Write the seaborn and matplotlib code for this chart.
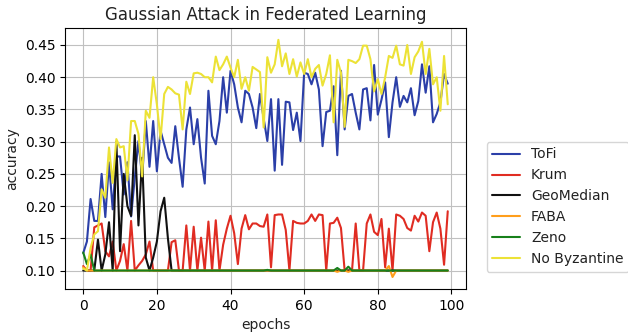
import pandas as pd
import matplotlib
matplotlib.use('Agg')
import matplotlib.pyplot as plt
import seaborn as sns

epochs = list(range(100))

tofi = [0.127, 0.145, 0.211, 0.177, 0.177, 0.250, 0.183, 0.268, 0.195, 0.277,
        0.277, 0.218, 0.268, 0.184, 0.244, 0.301, 0.244, 0.332, 0.261, 0.332,
        0.254, 0.317, 0.296, 0.275, 0.267, 0.324, 0.275, 0.230, 0.319, 0.353,
        0.296, 0.335, 0.275, 0.235, 0.379, 0.309, 0.296, 0.332, 0.400, 0.345,
        0.410, 0.389, 0.353, 0.330, 0.379, 0.374, 0.353, 0.321, 0.374, 0.336,
        0.301, 0.366, 0.255, 0.366, 0.264, 0.362, 0.361, 0.318, 0.345, 0.301,
        0.407, 0.405, 0.389, 0.407, 0.381, 0.293, 0.346, 0.348, 0.386, 0.279,
        0.410, 0.319, 0.371, 0.374, 0.345, 0.319, 0.381, 0.383, 0.333, 0.419,
        0.342, 0.365, 0.392, 0.307, 0.361, 0.400, 0.354, 0.371, 0.361, 0.383,
        0.341, 0.363, 0.420, 0.376, 0.417, 0.330, 0.343, 0.361, 0.405, 0.390]

krum = [0.107, 0.100, 0.100, 0.167, 0.170, 0.173, 0.130, 0.122, 0.145, 0.100,
        0.115, 0.141, 0.100, 0.177, 0.100, 0.108, 0.115, 0.125, 0.145, 0.100,
        0.100, 0.100, 0.100, 0.100, 0.144, 0.147, 0.100, 0.100, 0.170, 0.100,
        0.168, 0.100, 0.151, 0.100, 0.176, 0.100, 0.178, 0.100, 0.140, 0.165,
        0.185, 0.158, 0.110, 0.165, 0.186, 0.164, 0.173, 0.173, 0.169, 0.168,
        0.187, 0.105, 0.186, 0.187, 0.187, 0.163, 0.100, 0.177, 0.174, 0.173,
        0.173, 0.177, 0.187, 0.177, 0.187, 0.186, 0.100, 0.173, 0.174, 0.182,
        0.166, 0.100, 0.100, 0.100, 0.173, 0.100, 0.100, 0.173, 0.187, 0.160,
        0.155, 0.180, 0.105, 0.165, 0.100, 0.187, 0.185, 0.180, 0.166, 0.162,
        0.185, 0.176, 0.190, 0.185, 0.130, 0.175, 0.190, 0.165, 0.109, 0.192]

geomedian = [0.100, 0.100, 0.100, 0.100, 0.148, 0.100, 0.125, 0.175, 0.100, 0.300,
             0.130, 0.250, 0.200, 0.185, 0.310, 0.170, 0.275, 0.120, 0.100, 0.120,
             0.145, 0.192, 0.213, 0.150, 0.100, 0.100, 0.100, 0.100, 0.100, 0.100,
             0.100, 0.100, 0.100, 0.100, 0.100, 0.100, 0.100, 0.100, 0.100, 0.100,
             0.100, 0.100, 0.100, 0.100, 0.100, 0.100, 0.100, 0.100, 0.100, 0.100,
             0.100, 0.100, 0.100, 0.100, 0.100, 0.100, 0.100, 0.100, 0.100, 0.100,
             0.100, 0.100, 0.100, 0.100, 0.100, 0.100, 0.100, 0.100, 0.100, 0.100,
             0.100, 0.100, 0.100, 0.100, 0.100, 0.100, 0.100, 0.100, 0.100, 0.100,
             0.100, 0.100, 0.100, 0.100, 0.100, 0.100, 0.100, 0.100, 0.100, 0.100,
             0.100, 0.100, 0.100, 0.100, 0.100, 0.100, 0.100, 0.100, 0.100, 0.100]

faba = [0.105, 0.100, 0.100, 0.100, 0.100, 0.100, 0.100, 0.100, 0.100, 0.100,
        0.100, 0.100, 0.100, 0.100, 0.100, 0.100, 0.100, 0.100, 0.100, 0.100,
        0.100, 0.100, 0.100, 0.100, 0.100, 0.100, 0.100, 0.100, 0.100, 0.100,
        0.100, 0.100, 0.100, 0.100, 0.100, 0.100, 0.100, 0.100, 0.100, 0.100,
        0.100, 0.100, 0.100, 0.100, 0.100, 0.100, 0.100, 0.100, 0.100, 0.100,
        0.100, 0.100, 0.100, 0.100, 0.100, 0.100, 0.100, 0.100, 0.100, 0.100,
        0.100, 0.100, 0.100, 0.100, 0.100, 0.100, 0.100, 0.100, 0.100, 0.098,
        0.100, 0.100, 0.098, 0.100, 0.100, 0.100, 0.100, 0.100, 0.100, 0.100,
        0.100, 0.100, 0.100, 0.107, 0.090, 0.100, 0.100, 0.100, 0.100, 0.100,
        0.100, 0.100, 0.100, 0.100, 0.100, 0.100, 0.100, 0.100, 0.100, 0.100]

zeno = [0.128, 0.110, 0.125, 0.100, 0.100, 0.100, 0.100, 0.100, 0.100, 0.100,
        0.100, 0.100, 0.100, 0.100, 0.100, 0.100, 0.100, 0.100, 0.100, 0.100,
        0.100, 0.100, 0.100, 0.100, 0.100, 0.100, 0.100, 0.100, 0.100, 0.100,
        0.100, 0.100, 0.100, 0.100, 0.100, 0.100, 0.100, 0.100, 0.100, 0.100,
        0.100, 0.100, 0.100, 0.100, 0.100, 0.100, 0.100, 0.100, 0.100, 0.100,
        0.101, 0.100, 0.100, 0.100, 0.100, 0.100, 0.100, 0.100, 0.100, 0.100,
        0.100, 0.100, 0.100, 0.100, 0.100, 0.100, 0.100, 0.100, 0.100, 0.104,
        0.100, 0.100, 0.106, 0.100, 0.100, 0.100, 0.100, 0.100, 0.100, 0.100,
        0.100, 0.100, 0.100, 0.100, 0.100, 0.100, 0.100, 0.100, 0.100, 0.100,
        0.100, 0.100, 0.100, 0.100, 0.100, 0.100, 0.100, 0.100, 0.100, 0.100]

no_byzantine = [0.103, 0.100, 0.135, 0.156, 0.161, 0.226, 0.213, 0.291, 0.236, 0.304,
                0.291, 0.293, 0.240, 0.332, 0.332, 0.312, 0.246, 0.348, 0.337, 0.400,
                0.358, 0.304, 0.374, 0.385, 0.381, 0.375, 0.373, 0.319, 0.393, 0.374,
                0.406, 0.407, 0.405, 0.400, 0.400, 0.392, 0.432, 0.411, 0.420, 0.432,
                0.415, 0.400, 0.427, 0.382, 0.400, 0.379, 0.416, 0.412, 0.408, 0.322,
                0.431, 0.407, 0.420, 0.458, 0.417, 0.437, 0.405, 0.428, 0.401, 0.423,
                0.405, 0.428, 0.400, 0.413, 0.419, 0.387, 0.405, 0.434, 0.330, 0.427,
                0.407, 0.323, 0.427, 0.425, 0.422, 0.428, 0.449, 0.449, 0.428, 0.378,
                0.397, 0.374, 0.400, 0.433, 0.430, 0.449, 0.420, 0.418, 0.450, 0.405,
                0.431, 0.440, 0.455, 0.405, 0.444, 0.389, 0.400, 0.348, 0.433, 0.358]

methods = ['ToFi', 'Krum', 'GeoMedian', 'FABA', 'Zeno', 'No Byzantine']
colors = ['#2b3fa8', '#e02c22', '#111111', '#ff9e1b', '#17801a', '#ece236']
series = [tofi, krum, geomedian, faba, zeno, no_byzantine]

frames = []
for name, vals in zip(methods, series):
    frames.append(pd.DataFrame({'epochs': epochs, 'accuracy': vals, 'method': name}))
df = pd.concat(frames, ignore_index=True)

sns.set_style('whitegrid', {'axes.edgecolor': 'black', 'axes.linewidth': 1.0,
                            'grid.color': '#c0c0c0',
                            'xtick.bottom': True, 'ytick.left': True,
                            'xtick.color': 'black', 'ytick.color': 'black',
                            'text.color': '#222222', 'axes.labelcolor': '#222222'})
plt.rcParams['font.family'] = ['DejaVu Sans']
plt.rcParams['font.size'] = 10
plt.rcParams['xtick.major.size'] = 3.5
plt.rcParams['ytick.major.size'] = 3.5

fig, ax = plt.subplots(figsize=(6.28, 3.32), dpi=100)
fig.subplots_adjust(left=0.1035, right=0.742, bottom=0.130, top=0.9157)

sns.lineplot(data=df, x='epochs', y='accuracy', hue='method', hue_order=methods,
             palette=colors, linewidth=1.5, ax=ax)

ax.set_title('Gaussian Attack in Federated Learning', fontsize=12)
ax.set_xlabel('epochs', fontsize=10)
ax.set_ylabel('accuracy', fontsize=10)
ax.tick_params(labelsize=10)
ax.set_xticks([0, 20, 40, 60, 80, 100])
ax.set_yticks([0.10, 0.15, 0.20, 0.25, 0.30, 0.35, 0.40, 0.45])
ax.margins(x=0.05, y=0.05)
ax.legend(loc='center left', bbox_to_anchor=(1.034, 0.3145), fontsize=10,
          frameon=True, facecolor='white', edgecolor='#cccccc')

fig.savefig('out.png', dpi=100)
